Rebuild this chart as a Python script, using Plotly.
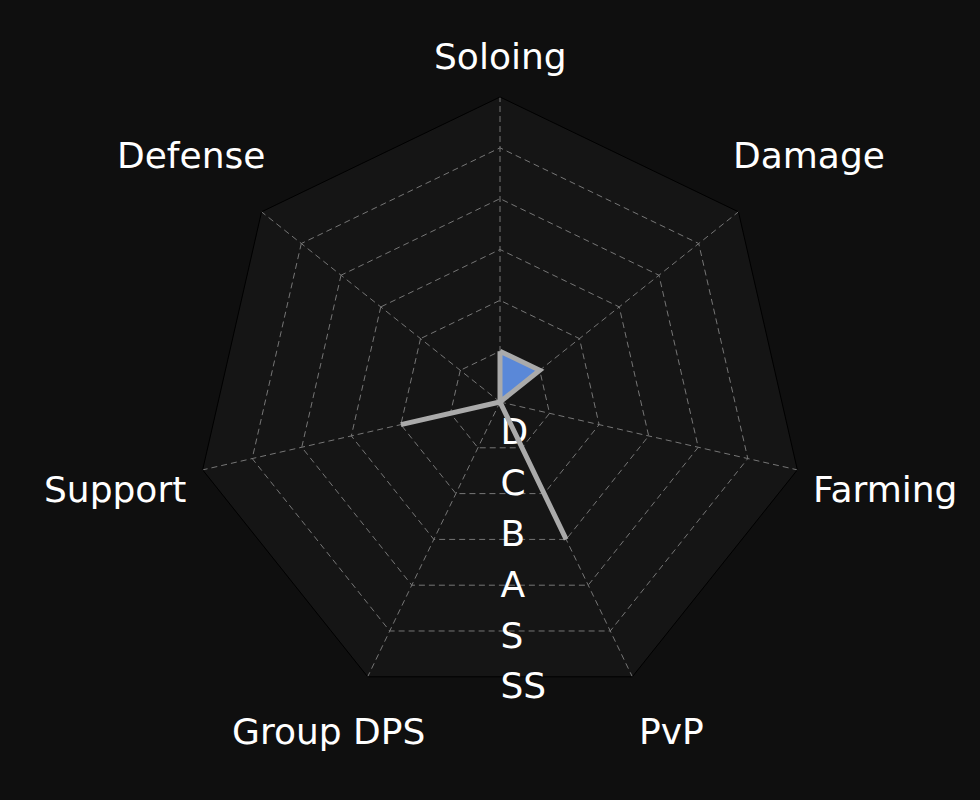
import math
import plotly.graph_objects as go

categories = ["Soloing", "Damage", "Farming", "PvP", "Group DPS", "Support", "Defense"]
values = [1, 1, 0, 3, 0, 2, 0]
grade_vals = [0.6, 1.6, 2.6, 3.6, 4.6, 5.6]
grade_text = ["D", "C", "B", "A", "S", "SS"]
ring_vals = [1, 2, 3, 4, 5, 6]
r_max = 6

r = values + values[:1]
theta = categories + categories[:1]

W, H = 980, 800
M = dict(l=100, r=80, t=97, b=93)
FONT = "DejaVu Sans"
FS = 36
GRID = "#767676"
DASH = "6px,4px"

fig = go.Figure()
# anchor trace for the bottom (grid) subplot
fig.add_trace(go.Scatterpolar(
    r=r, theta=theta, mode="lines", line=dict(width=0, color="rgba(0,0,0,0)"),
    subplot="polar", showlegend=False, hoverinfo="skip",
))
# data trace on the top subplot
fig.add_trace(go.Scatterpolar(
    r=r, theta=theta, mode="lines", fill="toself",
    fillcolor="#5a88d8", line=dict(color="#aaaaaa", width=5),
    subplot="polar2", showlegend=False, hoverinfo="skip",
))

# category labels placed around the polar area (derived from the polar geometry)
pw, ph = W - M["l"] - M["r"], H - M["t"] - M["b"]
R = min(pw, ph) / 2
cx, cy = M["l"] + pw / 2, M["t"] + ph / 2
label_radius = 1.295 * R
y_lo, y_hi = 57, 731
n = len(categories)
for i, cat in enumerate(categories):
    a = math.radians(90 - i * 360 / n)
    px = cx + label_radius * math.cos(a)
    py = min(max(cy - label_radius * math.sin(a), y_lo), y_hi)
    fig.add_annotation(
        x=(px - M["l"]) / pw, y=(H - M["b"] - py) / ph, xref="paper", yref="paper",
        text=cat, showarrow=False, xanchor="center", yanchor="middle",
        font=dict(family=FONT, size=FS, color="#ffffff"),
    )

common_ang = dict(rotation=90, direction="clockwise", type="category",
                  categoryorder="array", categoryarray=categories)
dom = dict(x=[0, 1], y=[0, 1])

fig.update_layout(
    width=W, height=H,
    paper_bgcolor="#0f0f0f",
    font=dict(family=FONT, color="#ffffff", size=FS),
    margin=M,
    polar=dict(
        domain=dom,
        bgcolor="#151515",
        gridshape="linear",
        angularaxis=dict(
            **common_ang,
            gridcolor=GRID, griddash=DASH, gridwidth=1,
            linecolor="#000000", linewidth=1, showline=True,
            ticks="", showticklabels=False,
        ),
        radialaxis=dict(
            range=[0, r_max], tickvals=ring_vals, showticklabels=False,
            showline=False, ticks="",
            gridcolor=GRID, griddash=DASH, gridwidth=1,
        ),
    ),
    polar2=dict(
        domain=dom,
        bgcolor="rgba(0,0,0,0)",
        gridshape="circular",
        angularaxis=dict(
            **common_ang,
            showgrid=False, showline=False, ticks="", showticklabels=False,
        ),
        radialaxis=dict(
            range=[0, r_max], tickvals=grade_vals, ticktext=grade_text,
            angle=-90, tickangle=-90, side="counterclockwise",
            showline=False, ticks="", showgrid=False,
            layer="below traces",
            tickfont=dict(family=FONT, size=FS, color="#ffffff"),
        ),
    ),
)

fig.write_html("out.html")
